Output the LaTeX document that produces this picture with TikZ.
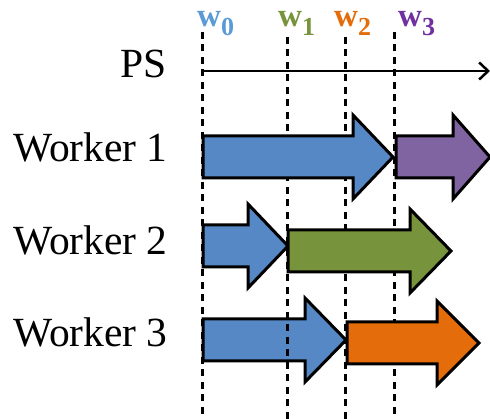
\documentclass[tikz,border=0pt]{standalone}
\usepackage{fontspec}
\setmainfont{Liberation Serif}
\usetikzlibrary{arrows.meta}

\definecolor{wblue}{HTML}{5B9BD5}
\definecolor{wgreen}{HTML}{77933C}
\definecolor{worange}{HTML}{E46C0A}
\definecolor{wpurple}{HTML}{7030A0}
\definecolor{ablue}{HTML}{5788C6}
\definecolor{apurple}{HTML}{8064A2}
\definecolor{agreen}{HTML}{77933C}
\definecolor{aorange}{HTML}{E46C0A}

\tikzset{
  arrowline/.style={draw=black,line width=3pt,line join=miter},
  epoch/.style={draw=black,line width=3pt,dash pattern=on 7pt off 5.5pt},
  rowlabel/.style={inner sep=0,font=\fontsize{41.5}{42}\selectfont},
  wname/.style={inner sep=0,anchor=base west,font=\fontsize{33}{33}\selectfont}}

% block arrow: start x, head start x, tip x, centre y, fill colour
\newcommand{\blockarrow}[5]{%
  \path[arrowline,fill=#5] (#1,#4-21) -- (#2,#4-21) -- (#2,#4-42) -- (#3,#4)
    -- (#2,#4+42) -- (#2,#4+21) -- (#1,#4+21) -- cycle;}

\newcommand{\wlabel}[1]{\textbf{w}\raisebox{-9pt}{\fontsize{26}{26}\selectfont\textbf{#1}}}

\begin{document}
\begin{tikzpicture}[x=1pt,y=-1pt]
  \useasboundingbox (0,0) rectangle (490,419);

  % worker 3, first update lies beneath the epoch lines
  \blockarrow{203}{305}{346}{340}{ablue}

  % epoch boundaries
  \coordinate (t0) at (202,32);  \coordinate (b0) at (202,419);
  \coordinate (t1) at (287,37);  \coordinate (b1) at (287,419);
  \coordinate (t2) at (345,37);  \coordinate (b2) at (345,419);
  \coordinate (t3) at (394,32);  \coordinate (b3) at (394,419);
  \draw[epoch] (t0) -- (b0);
  \draw[epoch] (t1) -- (b1);
  \draw[epoch] (t2) -- (b2);
  \draw[epoch] (t3) -- (b3);

  % parameter server time axis
  \coordinate (ps0) at (202,71);
  \coordinate (ps1) at (490,71);
  \draw[line width=2.5pt,-{Straight Barb[length=9pt,width=17pt]}] (ps0) -- (ps1);

  % parameter versions
  \node[wname,text=wblue]   (w0) at (197,27) {\wlabel{0}};
  \node[wname,text=wgreen]  (w1) at (278,27) {\wlabel{1}};
  \node[wname,text=worange] (w2) at (334,27) {\wlabel{2}};
  \node[wname,text=wpurple] (w3) at (398,27) {\wlabel{3}};

  % row labels
  \node[rowlabel,anchor=base east] (ps) at (167,78) {PS};
  \node[rowlabel,anchor=base west] (k1) at (13,162) {Worker 1};
  \node[rowlabel,anchor=base west] (k2) at (13,255) {Worker 2};
  \node[rowlabel,anchor=base west] (k3) at (13,347) {Worker 3};

  % updates computed by each worker
  \blockarrow{203}{353}{393}{157}{ablue}
  \blockarrow{396}{453}{490}{157}{apurple}
  \blockarrow{203}{248}{288}{246}{ablue}
  \blockarrow{288}{410}{451}{251}{agreen}
  \blockarrow{347}{437}{479}{343}{aorange}
\end{tikzpicture}
\end{document}
